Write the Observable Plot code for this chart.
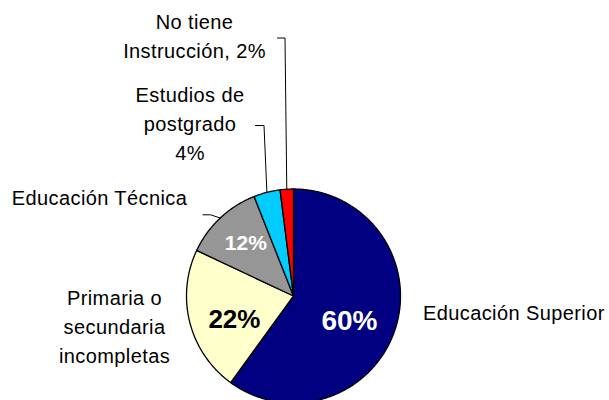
<!DOCTYPE html>
<html>
<head>
<meta charset="utf-8">
<script src="https://cdn.jsdelivr.net/npm/d3@7"></script>
<script src="https://cdn.jsdelivr.net/npm/@observablehq/plot@0.6"></script>
<style>
  html, body { margin: 0; padding: 0; background: #ffffff; }
  #chart { width: 609px; height: 400px; overflow: hidden; }
</style>
</head>
<body>
<div id="chart"></div>
<script>
// ---- Data ----
const categories = ["Educación Superior", "Primaria o secundaria incompletas", "Educación Técnica", "Estudios de postgrado", "No tiene Instrucción"];
const values = [60, 22, 12, 4, 2];
const colors = ["#000080", "#FFFFCC", "#969696", "#00CCFF", "#FF0000"];
const outerLabels = ["Educación Superior", "Primaria o\nsecundaria\nincompletas", "Educación Técnica", "Estudios de\npostgrado\n4%", "No tiene\nInstrucción, 2%"];
const innerLabels = ["60%", "22%", "12%", null, null];

// ---- Layout (pixels) ----
const W = 609, H = 400;
const cx = 293, cy = 295.5, R = 107;
const outerPos = [
  {x: 422.5, y: 319.5, anchor: "start"},
  {x: 114, y: 362.5, anchor: "middle"},
  {x: 99, y: 204, anchor: "middle"},
  {x: 189.5, y: 159.3, anchor: "middle"},
  {x: 194, y: 57.3, anchor: "middle"}
];
const innerPos = [
  {frac: 0.55, dy: 7, size: 28, color: "#ffffff"},
  {frac: 0.57, dy: 9, size: 26, color: "#000000"},
  {frac: 0.65, dy: -2, size: 21, color: "#ffffff"},
  null, null
];
const leaders = [
  null, null,
  {x0: 202.5, x1: 210, y0: 214.3},
  {x0: 255, x1: 263.5, y0: 125},
  {x0: 277, x1: 284.5, y0: 37.5}
];

// ---- Geometry from data ----
const arcs = d3.pie().sort(null).startAngle(0).endAngle(2 * Math.PI)(values);
const px = (a, r) => cx + r * Math.sin(a);
const py = (a, r) => cy - r * Math.cos(a);

const slicePts = [];
arcs.forEach((a, i) => {
  slicePts.push({k: i, x: cx, y: cy, color: colors[i]});
  const n = Math.max(2, Math.ceil((a.endAngle - a.startAngle) / (Math.PI / 360)));
  for (let j = 0; j <= n; j++) {
    const t = a.startAngle + (a.endAngle - a.startAngle) * j / n;
    slicePts.push({k: i, x: px(t, R), y: py(t, R), color: colors[i]});
  }
});

const leaderPts = [];
arcs.forEach((a, i) => {
  const L = leaders[i];
  if (!L) return;
  const m = (a.startAngle + a.endAngle) / 2;
  leaderPts.push({k: i, x: L.x0, y: L.y0});
  leaderPts.push({k: i, x: L.x1, y: L.y0});
  leaderPts.push({k: i, x: px(m, R), y: py(m, R)});
});

const outerText = outerLabels.map((t, i) => ({text: t, x: outerPos[i].x, y: outerPos[i].y, anchor: outerPos[i].anchor}));
const innerText = [];
arcs.forEach((a, i) => {
  const p = innerPos[i];
  if (!p) return;
  const m = (a.startAngle + a.endAngle) / 2;
  innerText.push({text: innerLabels[i], x: px(m, R * p.frac), y: py(m, R * p.frac) + p.dy, size: p.size, color: p.color});
});

const plot = Plot.plot({
  width: W, height: H,
  margin: 0,
  x: {type: "linear", domain: [0, W], range: [0, W], axis: null},
  y: {type: "linear", domain: [0, H], range: [0, H], axis: null},
  color: {type: "identity"},
  style: {background: "#ffffff", fontFamily: "Arial, 'Liberation Sans', sans-serif"},
  marks: [
    Plot.line(slicePts, {x: "x", y: "y", z: "k", fill: "color", stroke: "#000000", strokeWidth: 1.3, curve: "linear-closed", strokeLinejoin: "round"}),
    Plot.line(leaderPts, {x: "x", y: "y", z: "k", stroke: "#000000", strokeWidth: 1}),
    Plot.text(outerText.filter(d => d.anchor === "start"), {x: "x", y: "y", text: "text", textAnchor: "start", lineAnchor: "bottom", lineHeight: 1.45, fontSize: 20, fill: "#000000"}),
    Plot.text(outerText.filter(d => d.anchor === "middle"), {x: "x", y: "y", text: "text", textAnchor: "middle", lineAnchor: "bottom", lineHeight: 1.45, fontSize: 20, fill: "#000000"}),
    Plot.text(innerText, {x: "x", y: "y", text: "text", fontSize: "size", fill: "color", fontWeight: "bold"})
  ]
});

const groups = plot.querySelectorAll('g[aria-label="text"]');
for (let g = 0; g < 2 && g < groups.length; g++) groups[g].setAttribute("letter-spacing", "0.4");
document.getElementById("chart").appendChild(plot);
</script>
</body>
</html>
